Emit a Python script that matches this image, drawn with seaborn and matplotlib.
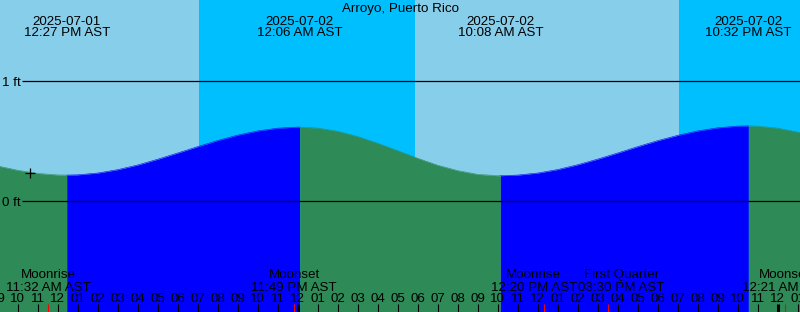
import matplotlib
matplotlib.use("Agg")
import matplotlib.pyplot as plt
import seaborn as sns
import pandas as pd

sns.set_theme(style="white")
plt.rcParams['font.family'] = ['Liberation Sans', 'DejaVu Sans']

# ---------------- data (hours relative to 2025-07-02 00:00 AST) ----------------
title = "Arroyo, Puerto Rico"

tide_hours = [-16, -15, -14, -13, -12, -11.55, -11, -10, -9, -8, -7, -6, -5, -4, -3, -2, -1,
              0, 0.1, 1, 2, 3, 4, 5, 6, 7, 8, 9, 10, 10.133, 11, 12, 13, 14, 15, 16, 17, 18,
              19, 20, 21, 22, 22.533, 23, 24, 25, 26]
tide_ft = [0.341, 0.296, 0.260, 0.234, 0.221, 0.220, 0.222, 0.237, 0.265, 0.304, 0.352, 0.404,
           0.457, 0.508, 0.553, 0.588, 0.611, 0.620, 0.620, 0.612, 0.585, 0.541, 0.485, 0.423,
           0.360, 0.302, 0.257, 0.226, 0.215, 0.215, 0.220, 0.237, 0.266, 0.306, 0.353, 0.404,
           0.457, 0.507, 0.551, 0.588, 0.614, 0.628, 0.630, 0.628, 0.611, 0.578, 0.532]

extreme_hours = [-11.55, 0.1, 10.133, 22.533]
extreme_dates = ["2025-07-01", "2025-07-02", "2025-07-02", "2025-07-02"]
extreme_times = ["12:27 PM AST", "12:06 AM AST", "10:08 AM AST", "10:32 PM AST"]

sun_change_hours = [-4.933, 5.867, 19.067]          # sunset, sunrise, sunset

moon_hours = [-12.467, -0.183, 12.333, 15.5, 24.35]
moon_names = ["Moonrise", "Moonset", "Moonrise", "First Quarter", "Moonset"]
moon_times = ["11:32 AM AST", "11:49 PM AST", "12:20 PM AST", "03:30 PM AST", "12:21 AM AST"]

now_hour = -13.385
now_ft = 0.24

y_grid = [0, 1]
y_grid_labels = ["0 ft", "1 ft"]

hour_ticks = list(range(-15, 26))

# ---------------- figure ----------------
W, H = 800, 312
X0, X1 = -14.885, 25.115
Y0, Y1 = -0.921, 1.679

fig = plt.figure(figsize=(W / 100, H / 100), dpi=100)
ax = fig.add_axes([0, 0, 1, 1])


def xpx(px):
    return X0 + px * (X1 - X0) / W


def ypx(py):
    return Y1 - py * (Y1 - Y0) / H


PXH = (X1 - X0) / W  # hours per pixel

DAY = "#87CEEB"
NIGHT = "#00BFFF"
RISE = "#0000FF"
FALL = "#2E8B57"

# day / night background
edges = [X0] + sun_change_hours + [X1]
for i in range(len(edges) - 1):
    ax.axvspan(edges[i], edges[i + 1], color=DAY if i % 2 == 0 else NIGHT, lw=0, zorder=0)

# tide segments
df = pd.DataFrame({"hour": tide_hours, "ft": tide_ft})
bounds = [tide_hours[0]] + extreme_hours + [tide_hours[-1]]
rows = []
for i in range(len(bounds) - 1):
    seg = df[(df.hour >= bounds[i]) & (df.hour <= bounds[i + 1])].copy()
    seg["seg"] = i
    seg["phase"] = "rise" if seg.ft.iloc[-1] > seg.ft.iloc[0] else "fall"
    rows.append(seg)
segs = pd.concat(rows, ignore_index=True)

for i, seg in segs.groupby("seg"):
    color = RISE if seg.phase.iloc[0] == "rise" else FALL
    ax.fill_between(seg.hour, seg.ft, Y0, color=color, lw=0, zorder=1)

sns.lineplot(data=segs, x="hour", y="ft", hue="phase", units="seg", estimator=None,
             palette={"rise": RISE, "fall": FALL}, legend=False, lw=0.4, ax=ax, zorder=1.5)
ax.set_xlim(X0, X1)
ax.set_ylim(Y0, Y1)
ax.axis('off')

# grid lines and labels
ax.hlines(y_grid, xpx(21.5), X1, color="black", lw=0.9, zorder=2)
FS = 9.6
for yv, lab in zip(y_grid, y_grid_labels):
    ax.text(xpx(2.0), yv - 4.3 * (Y1 - Y0) / H, lab, ha="left", va="baseline",
            fontsize=FS, color="black", zorder=5)

# title
ax.text(xpx(400), ypx(11.7), title, ha="center", va="baseline", fontsize=FS, color="black", zorder=5)

# tide extreme labels
for h, d, t in zip(extreme_hours, extreme_dates, extreme_times):
    ax.text(h, ypx(25), d, ha="center", va="baseline", fontsize=FS, color="black", zorder=5)
    ax.text(h, ypx(36.5), t, ha="center", va="baseline", fontsize=FS, color="black", zorder=5)

# current point marker
ax.plot([now_hour], [now_ft], marker="+", color="black", markersize=7, mew=0.9, zorder=5)

# hour ticks and labels
for h in hour_ticks:
    lab = f"{(h % 12) or 12:02d}"
    ax.text(h, ypx(301.7), lab, ha="center", va="baseline", fontsize=FS, color="black", zorder=5)
    midnight = (h % 24 == 0)
    ax.vlines(h, Y0, ypx(304), color="black", lw=2.2 if midnight else 0.8, zorder=4)

# moon events (labels of crowded events pushed apart, in pixels)
label_shift_px = [0, 0, -10.5, 13.5, 0]
for h, n, t, dx in zip(moon_hours, moon_names, moon_times, label_shift_px):
    ax.vlines(h, Y0, ypx(304), color="red", lw=0.8, zorder=4.5)
    lx = h + dx * PXH
    ax.text(lx, ypx(278.3), n, ha="center", va="baseline", fontsize=FS, color="black", zorder=5)
    ax.text(lx, ypx(290.7), t, ha="center", va="baseline", fontsize=FS, color="black", zorder=5)

fig.savefig("out.png", dpi=100)
